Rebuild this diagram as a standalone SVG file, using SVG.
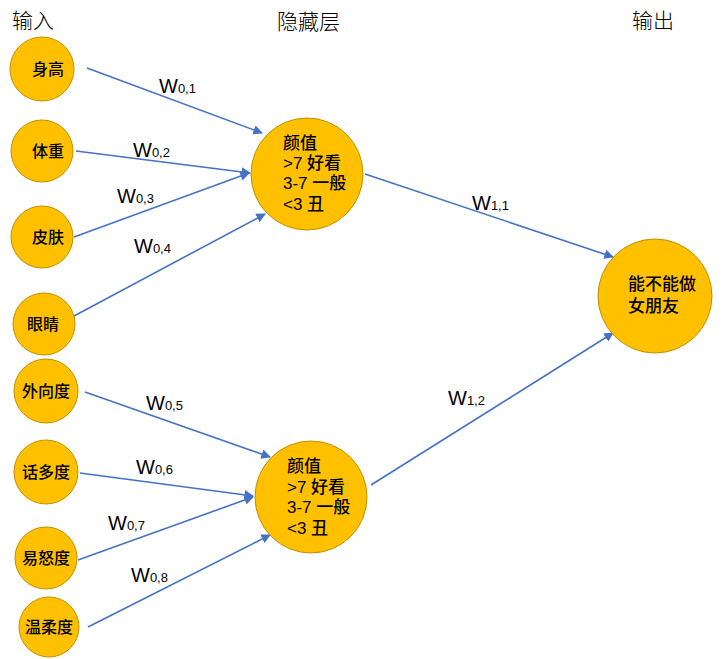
<svg xmlns="http://www.w3.org/2000/svg" width="723" height="659" viewBox="0 0 723 659">
<style>
.n{fill:#FFC000;stroke:#C09000;stroke-width:1}
.t{font-family:"Noto Sans CJK SC","Liberation Sans",sans-serif;font-size:16px;font-weight:500;fill:#000}
.m{font-family:"Liberation Sans","Noto Sans CJK SC",sans-serif;font-size:17px;font-weight:500;fill:#000}
.h{font-family:"Noto Sans CJK SC","Liberation Sans",sans-serif;font-size:21px;font-weight:300;fill:#000}
.w{font-family:"Liberation Sans","Noto Sans CJK SC",sans-serif;font-size:20px;fill:#000}
.s{font-size:13px}
.c line{stroke:#4472C4;stroke-width:1.6;marker-end:url(#a)}
</style>
<defs>
<marker id="a" viewBox="0 0 10 10" refX="9" refY="5" markerWidth="6" markerHeight="6" orient="auto" markerUnits="strokeWidth">
<path d="M0,0 L10,5 L0,10 z" fill="#4472C4"/>
</marker>
</defs>
<rect width="723" height="659" fill="#fff"/>
<text class="h" x="12" y="28">输入</text>
<text class="h" x="277" y="29">隐藏层</text>
<text class="h" x="632" y="28">输出</text>
<g class="c" id="connectors">
<line x1="87" y1="68" x2="262" y2="133"/>
<line x1="76" y1="151" x2="250" y2="173"/>
<line x1="74" y1="237" x2="249" y2="173"/>
<line x1="74" y1="316" x2="265" y2="214"/>
<line x1="85" y1="392" x2="270" y2="457"/>
<line x1="80" y1="473" x2="253" y2="496"/>
<line x1="78" y1="560" x2="253" y2="497"/>
<line x1="88" y1="627" x2="270" y2="535"/>
<line x1="365" y1="174" x2="613" y2="257"/>
<line x1="371" y1="485" x2="613" y2="333"/>
</g>
<g id="weights">
<text class="w" x="159" y="93">W<tspan class="s">0,1</tspan></text>
<text class="w" x="133" y="157">W<tspan class="s">0,2</tspan></text>
<text class="w" x="117" y="203">W<tspan class="s">0,3</tspan></text>
<text class="w" x="134" y="253">W<tspan class="s">0,4</tspan></text>
<text class="w" x="146" y="410">W<tspan class="s">0,5</tspan></text>
<text class="w" x="136" y="474">W<tspan class="s">0,6</tspan></text>
<text class="w" x="108" y="530">W<tspan class="s">0,7</tspan></text>
<text class="w" x="131" y="582">W<tspan class="s">0,8</tspan></text>
<text class="w" x="472" y="210">W<tspan class="s">1,1</tspan></text>
<text class="w" x="448" y="405">W<tspan class="s">1,2</tspan></text>
</g>
<g id="in1"><circle class="n" cx="42" cy="69" r="32"/><text class="t" x="48" y="75" text-anchor="middle">身高</text></g>
<g id="in2"><circle class="n" cx="42" cy="151" r="31"/><text class="t" x="48" y="157" text-anchor="middle">体重</text></g>
<g id="in3"><circle class="n" cx="42" cy="237" r="31"/><text class="t" x="48" y="243" text-anchor="middle">皮肤</text></g>
<g id="in4"><circle class="n" cx="44" cy="324" r="31"/><text class="t" x="43" y="330" text-anchor="middle">眼睛</text></g>
<g id="in5"><circle class="n" cx="46" cy="391" r="32"/><text class="t" x="46" y="397" text-anchor="middle">外向度</text></g>
<g id="in6"><circle class="n" cx="46" cy="472" r="32"/><text class="t" x="46" y="478" text-anchor="middle">话多度</text></g>
<g id="in7"><circle class="n" cx="46" cy="558" r="31"/><text class="t" x="46" y="564" text-anchor="middle">易怒度</text></g>
<g id="in8"><circle class="n" cx="49" cy="627" r="30"/><text class="t" x="49" y="633" text-anchor="middle">温柔度</text></g>
<g id="hid1"><circle class="n" cx="307" cy="174" r="56"/>
<text class="m" x="283" y="149">颜值</text>
<text class="m" x="283" y="169">&gt;7 好看</text>
<text class="m" x="283" y="189">3-7 一般</text>
<text class="m" x="283" y="210">&lt;3 丑</text></g>
<g id="hid2"><circle class="n" cx="311" cy="497" r="56"/>
<text class="m" x="287" y="472">颜值</text>
<text class="m" x="287" y="493">&gt;7 好看</text>
<text class="m" x="287" y="513">3-7 一般</text>
<text class="m" x="287" y="534">&lt;3 丑</text></g>
<g id="out"><circle class="n" cx="655" cy="296" r="57"/>
<text class="m" x="628" y="290">能不能做</text>
<text class="m" x="628" y="312">女朋友</text></g>
</svg>
